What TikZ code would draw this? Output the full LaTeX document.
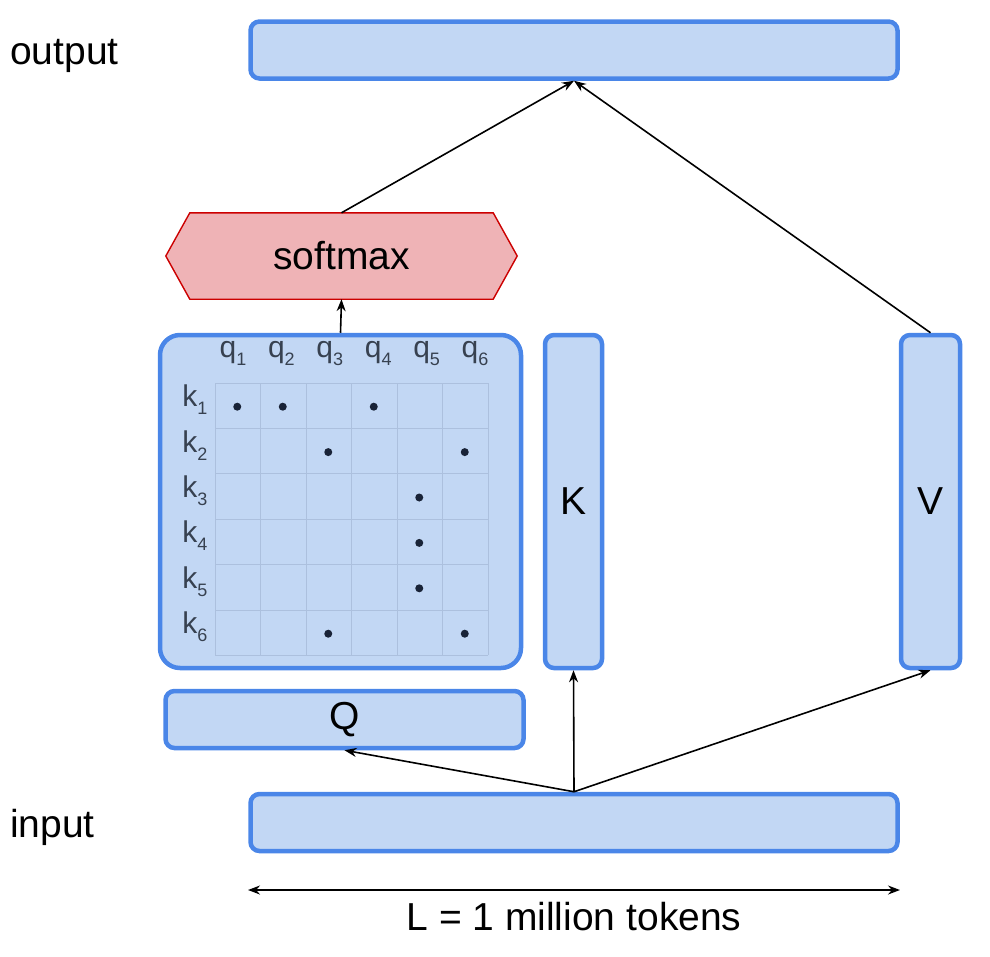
\documentclass[tikz,border=0pt]{standalone}
\usepackage{fontspec}
\setmainfont{Liberation Sans}
\usetikzlibrary{arrows.meta,calc,backgrounds}
\definecolor{bfill}{RGB}{194,215,244}
\definecolor{bline}{RGB}{74,134,232}
\definecolor{sfill}{RGB}{239,179,182}
\definecolor{sline}{RGB}{204,0,0}
\definecolor{glab}{RGB}{55,65,80}
\definecolor{gridc}{RGB}{172,192,222}
\definecolor{dotc}{RGB}{25,35,55}
\newcommand\bigf{\fontsize{39}{44}\selectfont}
\newcommand\lblf{\fontsize{30}{33}\selectfont}
\newcommand\subf{\fontsize{18}{20}\selectfont}
\tikzset{
  blk/.style={draw=bline, fill=bfill, line width=4.5pt, rounded corners=9pt, inner sep=0pt, font=\bigf},
  conn/.style={line width=1.6pt, -{Stealth[length=12pt,width=9pt]}},
  lab/.style={text=glab, font=\lblf, inner sep=0pt},
}
\begin{document}
\begin{tikzpicture}[x=1pt,y=-1pt]
\useasboundingbox (0,0) rectangle (990,956);

% boxes
\node[blk, minimum width=647pt, minimum height=57pt] (out) at (574,50) {};
\node[blk, minimum width=647pt, minimum height=57pt] (inp) at (574,822.5) {};
\node[blk, minimum width=358pt, minimum height=57pt] (Q) at (344.5,719.5) {Q};
\node[blk, minimum width=57pt, minimum height=333pt] (K) at (573.5,501.5) {K};
\node[blk, minimum width=59pt, minimum height=333pt] (V) at (930.5,501.5) {V};
\node[blk, rounded corners=20pt, minimum width=361pt, minimum height=333pt] (mat) at (340.5,501.5) {};

% side labels
\node[anchor=base west, font=\bigf, inner sep=0pt] (outl) at (10,64) {output};
\node[anchor=base west, font=\bigf, inner sep=0pt] (inpl) at (10,837) {input};

% grid
\foreach \i in {0,...,6} {
  \draw[gridc, line width=0.7pt] ({215+45.5*\i},383) -- ({215+45.5*\i},655.4);
  \draw[gridc, line width=0.7pt] (215,{383+45.4*\i}) -- (488,{383+45.4*\i});
}
\foreach \c/\r in {1/1,2/1,4/1,3/2,6/2,5/3,5/4,5/5,3/6,6/6}
  \fill[dotc] ({215+45.5*(\c-0.5)-0.5},{383+45.4*(\r-0.5)+1}) circle[radius=4pt];
\foreach \i in {1,...,6} {
  \node[lab, anchor=base] (q\i) at ({233+48.4*(\i-1)},357) {q\raisebox{-8pt}{\subf\i}};
  \node[lab, anchor=base] (k\i) at (195,{383+45.4*(\i-0.5)+1}) {k\raisebox{-8pt}{\subf\i}};
}

% softmax
\node[minimum width=351pt, minimum height=86pt, inner sep=0pt, font=\bigf] (sm) at (341.5,256) {softmax};
\begin{scope}[on background layer]
\draw[sline, fill=sfill, line width=1.4pt, line join=miter]
  ($(sm.north west)+(24,0)$) -- ($(sm.north east)+(-24,0)$) -- (sm.east) --
  ($(sm.south east)+(-24,0)$) -- ($(sm.south west)+(24,0)$) -- (sm.west) -- cycle;
\end{scope}

% connectors
\draw[conn] (mat.north) -- (sm.south);
\draw[conn] (sm.north) -- (out.south);
\draw[conn] (V.north) -- (out.south);
\draw[conn] (inp.north) -- (Q.south);
\draw[conn] (inp.north) -- (K.south);
\draw[conn] (inp.north) -- (V.south);

% length marker
\coordinate (dl) at (248,890);
\coordinate (dr) at (900,890);
\draw[line width=1.6pt, {Stealth[length=12pt,width=9pt]}-{Stealth[length=12pt,width=9pt]}] (dl) -- (dr);
\node[font=\bigf, inner sep=0pt] (len) at (574,917) {L = 1 million tokens};
\end{tikzpicture}
\end{document}
